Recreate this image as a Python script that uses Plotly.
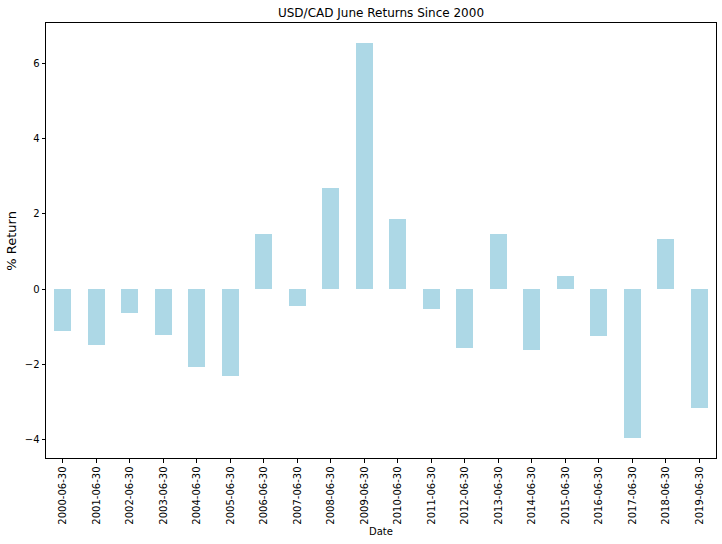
import plotly.graph_objects as go

dates = ["2000-06-30", "2001-06-30", "2002-06-30", "2003-06-30", "2004-06-30",
         "2005-06-30", "2006-06-30", "2007-06-30", "2008-06-30", "2009-06-30",
         "2010-06-30", "2011-06-30", "2012-06-30", "2013-06-30", "2014-06-30",
         "2015-06-30", "2016-06-30", "2017-06-30", "2018-06-30", "2019-06-30"]
returns = [-1.11, -1.49, -0.63, -1.23, -2.07, -2.31, 1.46, -0.44, 2.68, 6.55,
           1.86, -0.52, -1.56, 1.47, -1.63, 0.34, -1.24, -3.96, 1.33, -3.16]
y_ticks = [-4, -2, 0, 2, 4, 6]

font = "DejaVu Sans"

fig = go.Figure()
fig.add_trace(go.Bar(
    x=list(range(len(dates))), y=returns, width=0.5,
    marker=dict(color="#add8e6", line=dict(width=0)),
))

fig.update_layout(
    width=722, height=544,
    margin=dict(l=46, r=6, t=23, b=86),
    paper_bgcolor="white", plot_bgcolor="white",
    showlegend=False,
    font=dict(family=font, size=10, color="black"),
    title=dict(text="USD/CAD June Returns Since 2000", xref="paper", x=0.5, xanchor="center",
               yref="container", y=1 - 13 / 544, yanchor="middle",
               font=dict(family=font, size=12, color="black")),
    bargap=0,
)
fig.update_xaxes(
    range=[-0.5, len(dates) - 0.5],
    tickmode="array", tickvals=list(range(len(dates))), ticktext=dates,
    tickangle=-90, ticks="outside", ticklen=3.5, tickcolor="black",
    showline=True, linecolor="black", linewidth=1, mirror=True,
    showgrid=False, zeroline=False,
    tickfont=dict(family=font, size=10, color="black"),
)
fig.update_yaxes(
    range=[-4.49, 7.08],
    tickmode="array", tickvals=y_ticks, ticktext=[str(v).replace("-", "−") for v in y_ticks],
    ticks="outside", ticklen=3.5, tickcolor="black",
    showline=True, linecolor="black", linewidth=1, mirror=True,
    showgrid=False, zeroline=False,
    tickfont=dict(family=font, size=10, color="black"),
)
fig.add_annotation(text="% Return", xref="paper", yref="paper",
                   x=-0.052, y=0.5, xanchor="center", yanchor="middle",
                   textangle=-90, showarrow=False,
                   font=dict(family=font, size=13, color="black"))
fig.add_annotation(text="Date", xref="paper", yref="paper",
                   x=0.5, y=-(531 - 458) / (544 - 23 - 86), xanchor="center", yanchor="middle",
                   showarrow=False,
                   font=dict(family=font, size=10, color="black"))

fig.write_html("out.html")
